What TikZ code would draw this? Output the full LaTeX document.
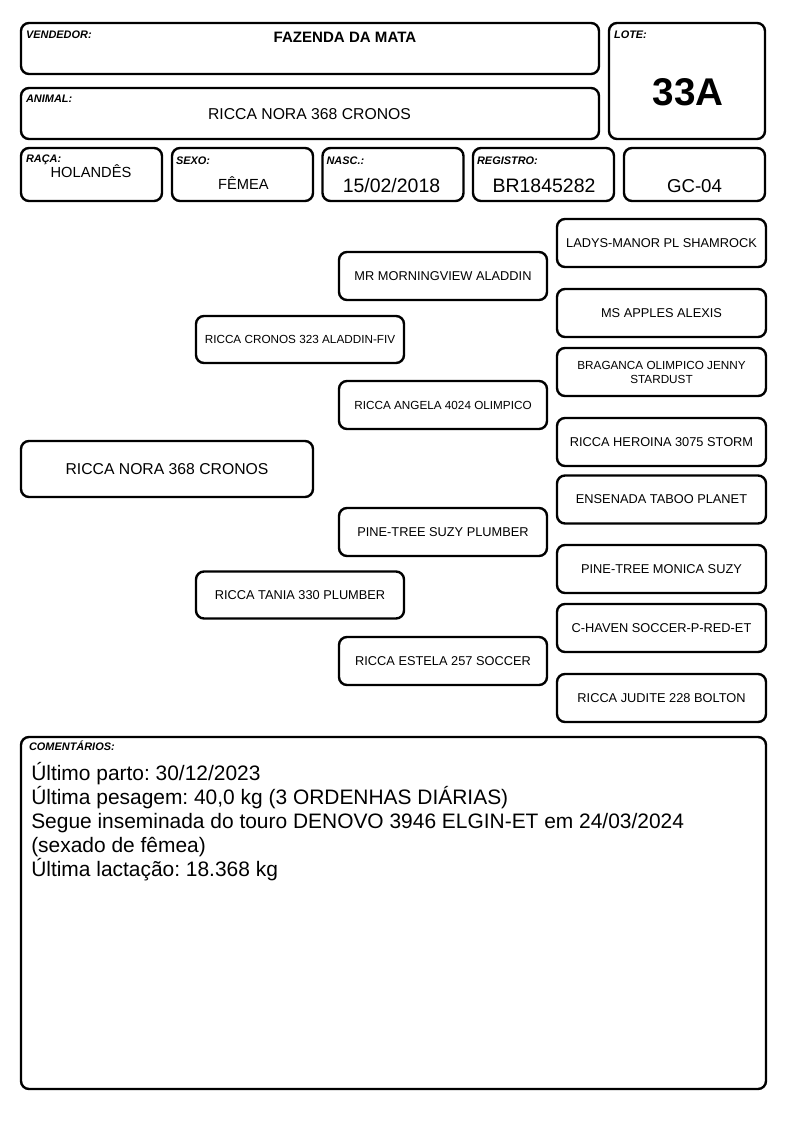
\documentclass[tikz,border=0pt]{standalone}
\usepackage{fontspec}
\setmainfont{Liberation Sans}
\usetikzlibrary{positioning}
\definecolor{ink}{HTML}{000000}
\frenchspacing
\tikzset{
  cell/.style={draw=ink, line width=1.8pt, rounded corners=6pt, inner sep=0pt},
  tag/.style={font=\fontsize{8.2}{9}\selectfont\bfseries\itshape, text=ink,
              inner sep=0pt, anchor=base west},
  val/.style={font=\fontsize{11}{13}\selectfont, text=ink, inner sep=0pt, anchor=base},
  valbig/.style={val, font=\fontsize{14.6}{16}\selectfont},
  %
  ped/.style={cell, align=center, text=ink, font=\fontsize{9.6}{11}\selectfont},
  pedsm/.style={font=\fontsize{8.8}{10.5}\selectfont},
  root/.style={ped, minimum width=219pt, minimum height=42pt,
               font=\fontsize{11.8}{13}\selectfont},
  gen1/.style={ped, minimum width=156pt, minimum height=35.25pt},
  gen2/.style={ped, minimum width=156pt, minimum height=36pt},
  gen3/.style={ped, minimum width=156.75pt, minimum height=36pt},
}
\begin{document}
\begin{tikzpicture}[x=0.75pt, y=-0.75pt]
  \useasboundingbox (0,0) rectangle (794,1123);

  % --- header -----------------------------------------------------------
  \node[cell, minimum width=433.5pt, minimum height=38.25pt] (vendedor) at (310,48.5) {};
  \node[tag] at ([shift={(6,17)}]vendedor.north west) {VENDEDOR:};
  \node[val, font=\fontsize{11.3}{13}\selectfont\bfseries] (fazenda) at (345,43) {FAZENDA DA MATA};

  \node[cell, minimum width=433.5pt, minimum height=38.25pt] (animal) at (310,113.5) {};
  \node[tag] at ([shift={(6,16)}]animal.north west) {ANIMAL:};
  \node[val, font=\fontsize{11.8}{13}\selectfont] (nome) at (309.5,120) {RICCA NORA 368 CRONOS};

  \node[cell, minimum width=117pt, minimum height=87pt] (lote) at (687,81) {};
  \node[tag] at ([shift={(6,17)}]lote.north west) {LOTE:};
  \node[val, font=\fontsize{29}{32}\selectfont\bfseries] (lotenum) at (688,106) {33A};

  % --- data cells -------------------------------------------------------
  \foreach \n/\x in {raca/91.5, sexo/242.5, nasc/393, registro/543.5, gc/694.5}
    \node[cell, minimum width=105.75pt, minimum height=39.75pt] (\n) at (\x,174.5) {};
  \node[tag] at ([shift={(6,15.5)}]raca.north west) {RAÇA:};
  \node[tag] at ([shift={(5,17.5)}]sexo.north west) {SEXO:};
  \node[tag] at ([shift={(5,17.5)}]nasc.north west) {NASC.:};
  \node[tag] at ([shift={(5,17.5)}]registro.north west) {REGISTRO:};

  \node[val] (racav) at (91,178) {HOLANDÊS};
  \node[val] (sexov) at (243.5,189.5) {FÊMEA};
  \node[valbig] (nascv) at (391.5,193) {15/02/2018};
  \node[valbig] (registrov) at (544,192.5) {BR1845282};
  \node[valbig, font=\fontsize{14}{16}\selectfont] (gcv) at (694.5,192.5) {GC-04};

  % --- pedigree ---------------------------------------------------------
  \node[root] (vaca) at (167,469) {RICCA NORA 368 CRONOS};

  \node[gen1, pedsm] (pai) at (300,339.5) {RICCA CRONOS 323 ALADDIN-FIV};
  \node[gen1] (mae) at (300,595) {RICCA TANIA 330 PLUMBER};

  \node[gen2] (avopp) at (443,276) {MR MORNINGVIEW ALADDIN};
  \node[gen2, pedsm] (avopm) at (443,405) {RICCA ANGELA 4024 OLIMPICO};
  \node[gen2] (avomp) at (443,532) {PINE-TREE SUZY PLUMBER};
  \node[gen2] (avomm) at (443,661) {RICCA ESTELA 257 SOCCER};

  \node[gen3] (bisa1) at (661.5,243) {LADYS-MANOR PL SHAMROCK};
  \node[gen3] (bisa2) at (661.5,313) {MS APPLES ALEXIS};
  \node[gen3, pedsm] (bisa3) at (661.5,372) {BRAGANCA OLIMPICO JENNY\\STARDUST};
  \node[gen3] (bisa4) at (661.5,442) {RICCA HEROINA 3075 STORM};
  \node[gen3] (bisa5) at (661.5,499.5) {ENSENADA TABOO PLANET};
  \node[gen3] (bisa6) at (661.5,569) {PINE-TREE MONICA SUZY};
  \node[gen3] (bisa7) at (661.5,628) {C-HAVEN SOCCER-P-RED-ET};
  \node[gen3] (bisa8) at (661.5,698) {RICCA JUDITE 228 BOLTON};

  % --- comments ---------------------------------------------------------
  \node[cell, minimum width=558.75pt, minimum height=264pt] (obs) at (393.5,913) {};
  \node[tag] at ([shift={(9,15)}]obs.north west) {COMENTÁRIOS:};
  \node[anchor=north west, align=left, inner sep=0pt, text=ink,
        font=\fontsize{15.7}{18}\selectfont] (obstxt) at (31,762)
    {Último parto: 30/12/2023\\
     Última pesagem: 40,0 kg (3 ORDENHAS DIÁRIAS)\\
     Segue inseminada do touro DENOVO 3946 ELGIN-ET em 24/03/2024\\
     (sexado de fêmea)\\
     Última lactação: 18.368 kg};

\end{tikzpicture}
\end{document}
